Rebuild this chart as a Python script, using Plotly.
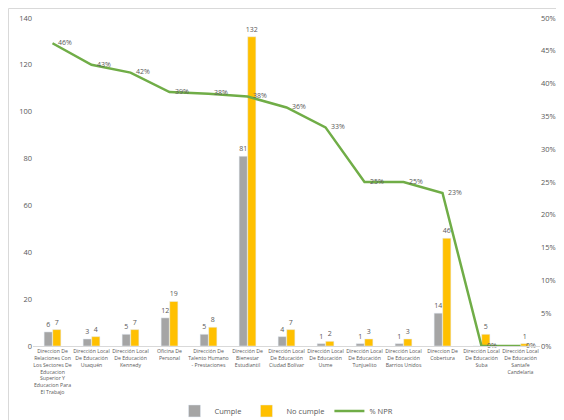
import plotly.graph_objects as go

categories = [
    "Direccion De<br>Relaciones Con<br>Los Sectores De<br>Educacion<br>Superior Y<br>Educacion Para<br>El Trabajo",
    "Dirección Local<br>De Educación<br>Usaquén",
    "Dirección Local<br>De Educación<br>Kennedy",
    "Oficina De<br>Personal",
    "Dirección De<br>Talento Humano<br>- Prestaciones",
    "Dirección De<br>Bienestar<br>Estudiantil",
    "Dirección Local<br>De Educación<br>Ciudad Bolívar",
    "Dirección Local<br>De Educación<br>Usme",
    "Dirección Local<br>De Educación<br>Tunjuelito",
    "Dirección Local<br>De Educación<br>Barrios Unidos",
    "Direccion De<br>Cobertura",
    "Dirección Local<br>De Educación<br>Suba",
    "Dirección Local<br>De Educación<br>Santafe<br>Candelaria",
]
cumple = [6, 3, 5, 12, 5, 81, 4, 1, 1, 1, 14, 0, 0]
no_cumple = [7, 4, 7, 19, 8, 132, 7, 2, 3, 3, 46, 5, 1]
npr = [0.4615, 0.4286, 0.4167, 0.3871, 0.3846, 0.3803, 0.3636, 0.3333, 0.25, 0.25, 0.2333, 0.0, 0.0]

GRAY = "#A5A5A5"
YELLOW = "#FFC000"
GREEN = "#70AD47"
TXT = "#595959"
FONT = "Open Sans"

x = list(range(len(categories)))

fig = go.Figure()
fig.add_trace(go.Bar(
    x=x, y=cumple, name="Cumple", marker_color=GRAY,
    text=[str(v) if v else "" for v in cumple], textposition="outside",
    constraintext="none",
    textfont=dict(size=7, color=TXT, family=FONT), cliponaxis=False,
))
fig.add_trace(go.Bar(
    x=x, y=no_cumple, name="No cumple", marker_color=YELLOW,
    text=[str(v) if v else "" for v in no_cumple], textposition="outside",
    constraintext="none",
    textfont=dict(size=7, color=TXT, family=FONT), cliponaxis=False,
))
fig.add_trace(go.Scatter(
    x=x, y=npr, name="% NPR", mode="lines+text", yaxis="y2",
    line=dict(color=GREEN, width=2.5),
    text=["\u00a0\u00a0\u00a0" + f"{round(v*100)}%" for v in npr], textposition="middle right",
    textfont=dict(size=7, color=TXT, family=FONT), cliponaxis=False,
))

# the page adds an 8px body margin, so the figure is sized 556x412
fig.update_layout(
    width=556, height=412,
    margin=dict(l=25, r=24, t=10, b=74, autoexpand=False),
    paper_bgcolor="white", plot_bgcolor="white",
    font=dict(family=FONT, color=TXT, size=8),
    barmode="group", bargap=0.56, bargroupgap=0.05,
    showlegend=True,
    legend=dict(orientation="h", x=0.5, xanchor="center", y=-0.198, yanchor="middle",
                font=dict(size=7.5, color=TXT), itemwidth=30, tracegroupgap=0),
    xaxis=dict(
        tickmode="array", tickvals=x, ticktext=categories, tickangle=0,
        tickfont=dict(size=5.2, color=TXT), range=[-0.5, len(x) - 0.5],
        showline=True, linecolor="#D9D9D9", linewidth=1, ticks="", showgrid=False,
        automargin=False,
    ),
    yaxis=dict(
        range=[0, 140], dtick=20, showgrid=False, zeroline=False,
        tickfont=dict(size=7.5, color=TXT), ticks="", showline=False, automargin=False,
    ),
    yaxis2=dict(
        range=[0, 0.5], dtick=0.05, tickformat=".0%", overlaying="y", side="right",
        showgrid=False, zeroline=False, tickfont=dict(size=7.5, color=TXT),
        ticks="", showline=False, automargin=False,
    ),
    shapes=[dict(type="rect", xref="paper", yref="paper",
                 x0=-24.5/507, x1=560/507, y0=-90/328, y1=337.5/328,
                 line=dict(color="#D9D9D9", width=1), layer="below")],
)

fig.write_html("out.html")
